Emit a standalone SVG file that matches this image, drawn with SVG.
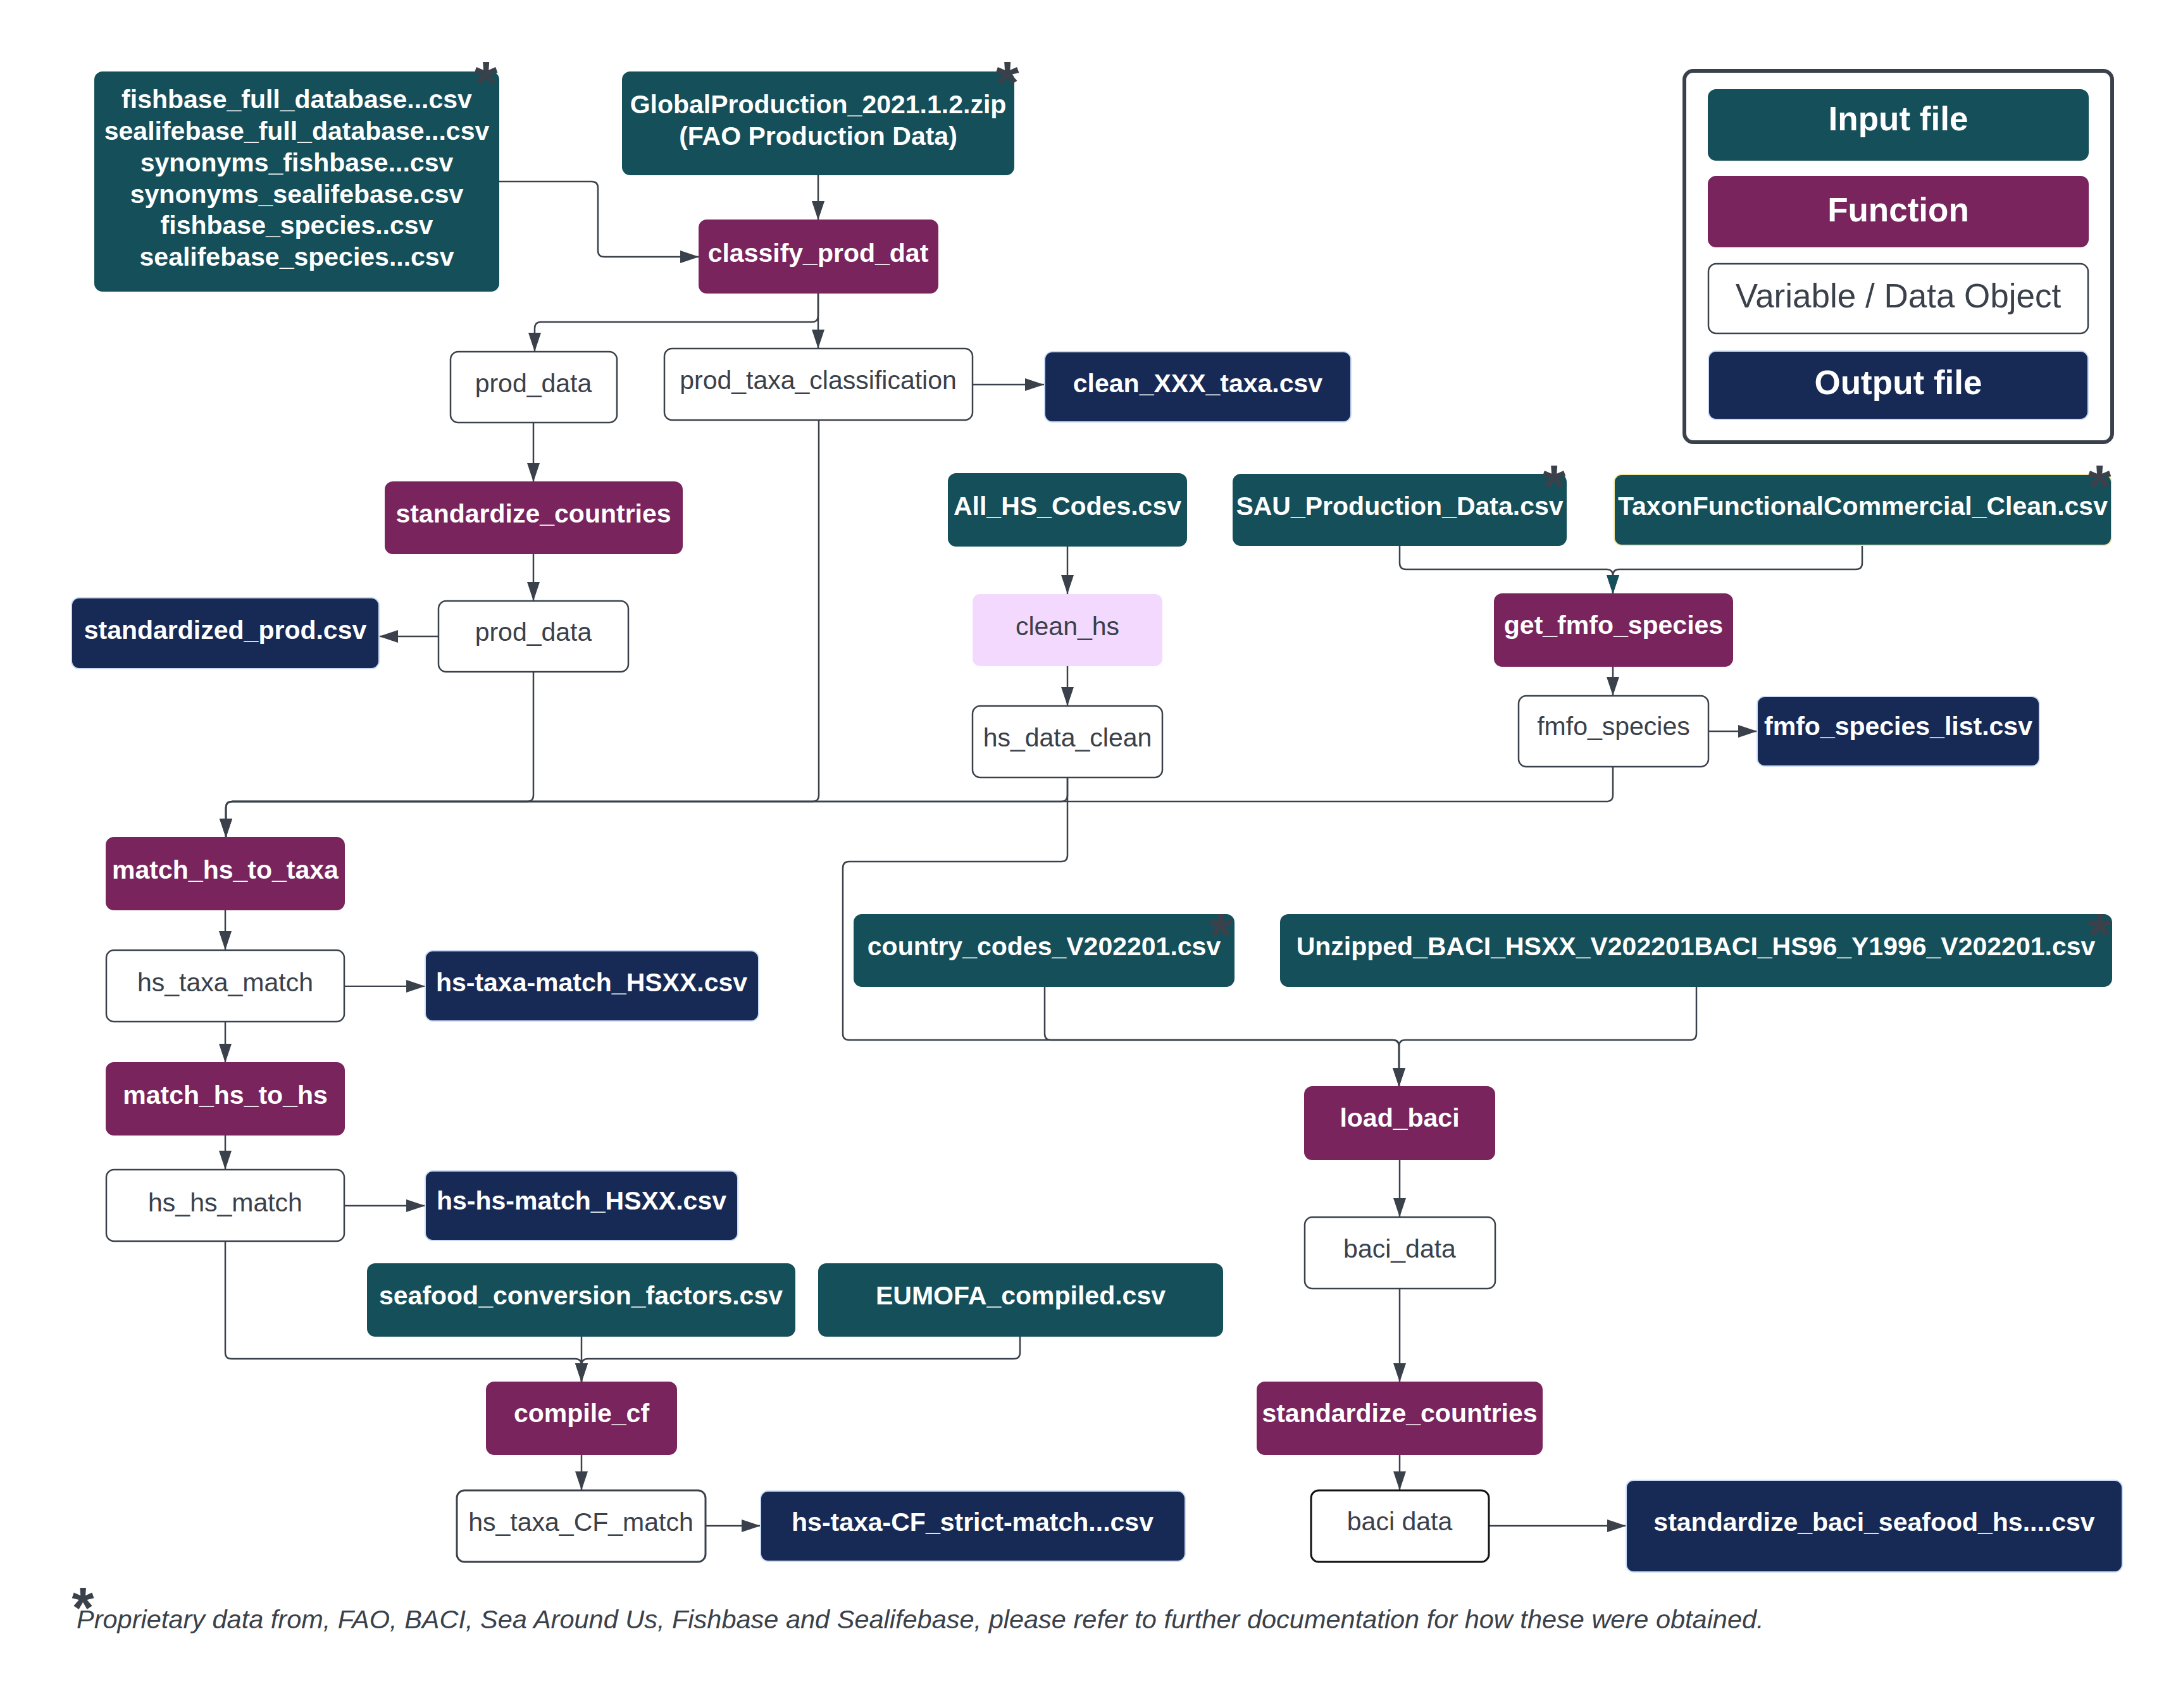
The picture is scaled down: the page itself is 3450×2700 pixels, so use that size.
<svg xmlns="http://www.w3.org/2000/svg" width="3450" height="2700" viewBox="0 0 3450 2700">
<defs>
<style>
.in{fill:#154F5A;stroke:#154F5A;stroke-width:2}
.fn{fill:#79245C;stroke:#79245C;stroke-width:2}
.out{fill:#172A55;stroke:#C8DBF6;stroke-width:2}
.var{fill:#ffffff;stroke:#3a414a;stroke-width:2.5}
.tw{font-family:"Liberation Sans",Arial,sans-serif;font-size:41px;font-weight:bold;fill:#ffffff;text-anchor:middle}
.td{font-family:"Liberation Sans",Arial,sans-serif;font-size:41px;fill:#3a414a;text-anchor:middle}
.ast{font-family:"Liberation Sans",Arial,sans-serif;font-size:95px;font-weight:bold;fill:#3a414a;text-anchor:middle}
.lw{font-family:"Liberation Sans",Arial,sans-serif;font-size:53px;font-weight:bold;fill:#ffffff;text-anchor:middle}
.ld{font-family:"Liberation Sans",Arial,sans-serif;font-size:53px;fill:#3a414a;text-anchor:middle}
.c{fill:none;stroke:#3a414a;stroke-width:2.5;marker-end:url(#arr)}
.cn{fill:none;stroke:#3a414a;stroke-width:2.5}
</style>
<marker id="arr" markerUnits="userSpaceOnUse" markerWidth="32" markerHeight="20" refX="30" refY="10" orient="auto"><path d="M0,0 L30,10 L0,20 z" fill="#3a414a"/></marker>
<marker id="arrT" markerUnits="userSpaceOnUse" markerWidth="32" markerHeight="20" refX="30" refY="10" orient="auto"><path d="M0,0 L30,10 L0,20 z" fill="#154F5A"/></marker>
</defs>
<rect width="3450" height="2700" fill="#ffffff"/>

<g id="connectors">
<path class="c" d="M788 287 H935 Q945 287 945 297 V396 Q945 406 955 406 H1105"/>
<path class="c" d="M1293 276 V348"/>
<path class="c" d="M1293 464 V499 Q1293 509 1283 509 H855 Q845 509 845 519 V556"/>
<path class="c" d="M1293 464 V551"/>
<path class="c" d="M1537 608 H1650"/>
<path class="c" d="M843 668 V762"/>
<path class="c" d="M843 875 V950"/>
<path class="c" d="M693 1006 H599"/>
<path class="c" d="M843 1063 V1257 Q843 1267 833 1267 H367 Q357 1267 357 1277 V1324"/>
<path class="c" d="M1294 664 V1257 Q1294 1267 1284 1267 H367 Q357 1267 357 1277 V1324"/>
<path class="c" d="M1687 1229 V1257 Q1687 1267 1677 1267 H367 Q357 1267 357 1277 V1324"/>
<path class="c" d="M2549 1212 V1257 Q2549 1267 2539 1267 H367 Q357 1267 357 1277 V1324"/>
<path class="c" d="M1687 863 V939"/>
<path class="c" d="M1687 1053 V1116"/>
<path class="c" d="M2212 862 V890 Q2212 900 2222 900 H2539 Q2549 900 2549 910 V939"/>
<path class="cn" style="marker-end:url(#arrT)" d="M2943 862 V890 Q2943 900 2933 900 H2559 Q2549 900 2549 910 V939"/>
<path class="c" d="M2549 1053 V1100"/>
<path class="c" d="M2700 1156 H2777"/>
<path class="c" d="M356 1438 V1502"/>
<path class="c" style="stroke-width:1.8" d="M544 1559 H672"/>
<path class="c" d="M356 1615 V1680"/>
<path class="c" d="M356 1794 V1849"/>
<path class="c" d="M544 1906 H672"/>
<path class="c" d="M356 1962 V2138 Q356 2148 366 2148 H909 Q919 2148 919 2158 V2185"/>
<path class="c" d="M919 2112 V2185"/>
<path class="c" d="M1612 2112 V2138 Q1612 2148 1602 2148 H929 Q919 2148 919 2158 V2185"/>
<path class="c" d="M919 2299 V2356"/>
<path class="c" d="M1115 2412 H1202"/>
<path class="c" d="M1687 1229 V1352 Q1687 1362 1677 1362 H1342 Q1332 1362 1332 1372 V1634 Q1332 1644 1342 1644 H2201 Q2211 1644 2211 1654 V1718"/>
<path class="c" d="M1651 1559 V1634 Q1651 1644 1661 1644 H2201 Q2211 1644 2211 1654 V1718"/>
<path class="c" d="M2681 1559 V1634 Q2681 1644 2671 1644 H2221 Q2211 1644 2211 1654 V1718"/>
<path class="c" d="M2212 1833 V1924"/>
<path class="c" d="M2212 2037 V2185"/>
<path class="c" d="M2212 2299 V2356"/>
<path class="c" d="M2354 2412 H2570"/>
</g>

<g id="n-fishbase">
<rect class="in" x="150" y="114" width="638" height="346" rx="12"/>
<text class="tw" x="469" y="171">fishbase_full_database...csv</text>
<text class="tw" x="469" y="221">sealifebase_full_database...csv</text>
<text class="tw" x="469" y="271">synonyms_fishbase...csv</text>
<text class="tw" x="469" y="321">synonyms_sealifebase.csv</text>
<text class="tw" x="469" y="370">fishbase_species..csv</text>
<text class="tw" x="469" y="420">sealifebase_species...csv</text>
<text class="ast" x="768" y="163">*</text>
</g>
<g id="n-globalproduction">
<rect class="in" x="984" y="114" width="618" height="162" rx="12"/>
<text class="tw" x="1293" y="179">GlobalProduction_2021.1.2.zip</text>
<text class="tw" x="1293" y="229">(FAO Production Data)</text>
<text class="ast" x="1592" y="163">*</text>
</g>
<g id="n-classify">
<rect class="fn" x="1105" y="348" width="377" height="115" rx="12"/>
<text class="tw" x="1293" y="414">classify_prod_dat</text>
</g>
<g id="n-prod-data-1">
<rect class="var" x="712" y="556" width="263" height="112" rx="12"/>
<text class="td" x="843" y="620">prod_data</text>
</g>
<g id="n-prod-taxa">
<rect class="var" x="1050" y="551" width="487" height="113" rx="12"/>
<text class="td" x="1293" y="615">prod_taxa_classification</text>
</g>
<g id="n-clean-xxx">
<rect class="out" x="1651" y="556" width="484" height="111" rx="12"/>
<text class="tw" x="1893" y="620">clean_XXX_taxa.csv</text>
</g>
<g id="n-standardize-1">
<rect class="fn" x="609" y="762" width="469" height="113" rx="12"/>
<text class="tw" x="843" y="826">standardize_countries</text>
</g>
<g id="n-prod-data-2">
<rect class="var" x="693" y="950" width="300" height="112" rx="12"/>
<text class="td" x="843" y="1013">prod_data</text>
</g>
<g id="n-standardized-prod">
<rect class="out" x="113" y="945" width="486" height="112" rx="12"/>
<text class="tw" x="356" y="1010">standardized_prod.csv</text>
</g>
<g id="n-all-hs">
<rect class="in" x="1499" y="749" width="376" height="114" rx="12"/>
<text class="tw" x="1687" y="814">All_HS_Codes.csv</text>
</g>
<g id="n-sau">
<rect class="in" x="1949" y="750" width="526" height="112" rx="12"/>
<text class="tw" x="2212" y="814">SAU_Production_Data.csv</text>
<text class="ast" x="2456" y="801">*</text>
</g>
<g id="n-taxonf">
<rect class="in" style="stroke:#F5E9A0" x="2551" y="750" width="786" height="112" rx="12"/>
<text class="tw" x="2944" y="814">TaxonFunctionalCommercial_Clean.csv</text>
<text class="ast" x="3318" y="801">*</text>
</g>
<g id="n-clean-hs">
<rect x="1537" y="939" width="300" height="114" rx="12" fill="#F3D9FD"/>
<text class="td" x="1687" y="1004">clean_hs</text>
</g>
<g id="n-hs-data-clean">
<rect class="var" x="1537" y="1116" width="300" height="113" rx="12"/>
<text class="td" x="1687" y="1180">hs_data_clean</text>
</g>
<g id="n-get-fmfo">
<rect class="fn" x="2362" y="939" width="376" height="114" rx="12"/>
<text class="tw" x="2550" y="1002">get_fmfo_species</text>
</g>
<g id="n-fmfo-species">
<rect class="var" x="2400" y="1100" width="300" height="112" rx="12"/>
<text class="td" x="2550" y="1162">fmfo_species</text>
</g>
<g id="n-fmfo-list">
<rect class="out" x="2777" y="1101" width="446" height="110" rx="12"/>
<text class="tw" x="3000" y="1162">fmfo_species_list.csv</text>
</g>
<g id="n-match-hs-taxa">
<rect class="fn" x="168" y="1324" width="376" height="114" rx="12"/>
<text class="tw" x="356" y="1389">match_hs_to_taxa</text>
</g>
<g id="n-hs-taxa-match">
<rect class="var" x="168" y="1502" width="376" height="113" rx="12"/>
<text class="td" x="356" y="1567">hs_taxa_match</text>
</g>
<g id="n-hs-taxa-match-csv">
<rect class="out" x="672" y="1503" width="527" height="111" rx="12"/>
<text class="tw" x="935" y="1567">hs-taxa-match_HSXX.csv</text>
</g>
<g id="n-match-hs-hs">
<rect class="fn" x="168" y="1680" width="376" height="114" rx="12"/>
<text class="tw" x="356" y="1745">match_hs_to_hs</text>
</g>
<g id="n-hs-hs-match">
<rect class="var" x="168" y="1849" width="376" height="113" rx="12"/>
<text class="td" x="356" y="1915">hs_hs_match</text>
</g>
<g id="n-hs-hs-match-csv">
<rect class="out" x="672" y="1851" width="494" height="110" rx="12"/>
<text class="tw" x="919" y="1912">hs-hs-match_HSXX.csv</text>
</g>
<g id="n-country-codes">
<rect class="in" x="1350" y="1446" width="600" height="113" rx="12"/>
<text class="tw" x="1650" y="1510">country_codes_V202201.csv</text>
<text class="ast" x="1929" y="1510">*</text>
</g>
<g id="n-unzipped">
<rect class="in" x="2024" y="1446" width="1313" height="113" rx="12"/>
<text class="tw" x="2680" y="1510">Unzipped_BACI_HSXX_V202201BACI_HS96_Y1996_V202201.csv</text>
<text class="ast" x="3318" y="1510">*</text>
</g>
<g id="n-load-baci">
<rect class="fn" x="2062" y="1718" width="300" height="115" rx="12"/>
<text class="tw" x="2212" y="1781">load_baci</text>
</g>
<g id="n-baci-data-1">
<rect class="var" x="2062" y="1924" width="301" height="113" rx="12"/>
<text class="td" x="2212" y="1988">baci_data</text>
</g>
<g id="n-seafood">
<rect class="in" x="581" y="1998" width="675" height="114" rx="12"/>
<text class="tw" x="918" y="2062">seafood_conversion_factors.csv</text>
</g>
<g id="n-eumofa">
<rect class="in" x="1294" y="1998" width="638" height="114" rx="12"/>
<text class="tw" x="1613" y="2062">EUMOFA_compiled.csv</text>
</g>
<g id="n-compile-cf">
<rect class="fn" x="769" y="2185" width="300" height="114" rx="12"/>
<text class="tw" x="919" y="2248">compile_cf</text>
</g>
<g id="n-hs-taxa-cf">
<rect class="var" style="stroke-width:3" x="722" y="2356" width="393" height="113" rx="12"/>
<text class="td" x="918" y="2420">hs_taxa_CF_match</text>
</g>
<g id="n-hs-taxa-cf-csv">
<rect class="out" x="1202" y="2357" width="671" height="111" rx="12"/>
<text class="tw" x="1537" y="2420">hs-taxa-CF_strict-match...csv</text>
</g>
<g id="n-standardize-2">
<rect class="fn" x="1987" y="2185" width="450" height="114" rx="12"/>
<text class="tw" x="2212" y="2248">standardize_countries</text>
</g>
<g id="n-baci-data-2">
<rect class="var" style="stroke:#111111;stroke-width:3" x="2072" y="2356" width="281" height="113" rx="12"/>
<text class="td" x="2212" y="2419">baci data</text>
</g>
<g id="n-standardize-baci-csv">
<rect class="out" x="2570" y="2340" width="784" height="145" rx="12"/>
<text class="tw" x="2962" y="2420">standardize_baci_seafood_hs....csv</text>
</g>

<g id="legend">
<rect x="2662" y="112" width="676" height="587" rx="14" fill="#ffffff" stroke="#3a414a" stroke-width="6"/>
<rect class="in" x="2700" y="142" width="600" height="111" rx="12"/>
<text class="lw" x="3000" y="206">Input file</text>
<rect class="fn" x="2700" y="279" width="600" height="111" rx="12"/>
<text class="lw" x="3000" y="350">Function</text>
<rect class="var" x="2700" y="417" width="600" height="110" rx="12"/>
<text class="ld" x="3000" y="486">Variable / Data Object</text>
<rect class="out" x="2700" y="555" width="600" height="108" rx="12"/>
<text class="lw" x="3000" y="623">Output file</text>
</g>

<g id="footnote">
<text class="ast" x="131" y="2573" style="font-size:90px">*</text>
<text x="121" y="2574" font-family="Liberation Sans, Arial, sans-serif" font-size="41.5" font-style="italic" fill="#3a414a">Proprietary data from, FAO, BACI, Sea Around Us, Fishbase and Sealifebase, please refer to further documentation for how these were obtained.</text>
</g>
</svg>
